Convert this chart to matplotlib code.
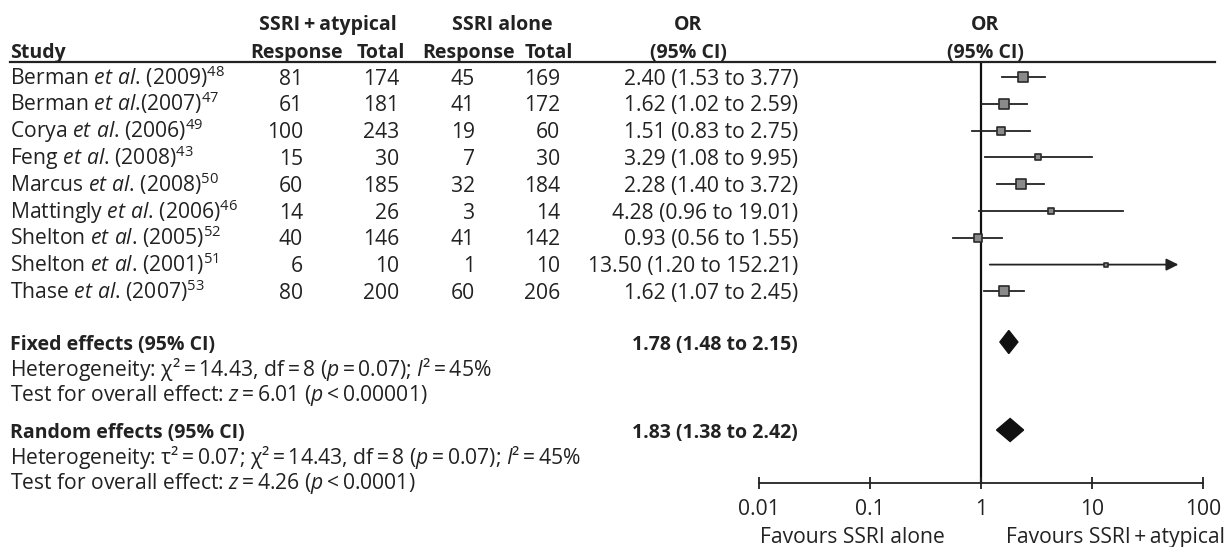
import matplotlib
matplotlib.use('Agg')
import matplotlib.pyplot as plt
from matplotlib.transforms import blended_transform_factory

plt.rcParams['font.family'] = ['Open Sans', 'DejaVu Sans']
plt.rcParams['mathtext.fontset'] = 'custom'
plt.rcParams['mathtext.rm'] = 'Open Sans'
plt.rcParams['mathtext.it'] = 'Open Sans:italic'
plt.rcParams['mathtext.bf'] = 'Open Sans:bold'

# data
studies = ['Berman $\\mathit{et\\ al}$. (2009)$^{48}$',
           'Berman $\\mathit{et\\ al}$.(2007)$^{47}$',
           'Corya $\\mathit{et\\ al}$. (2006)$^{49}$',
           'Feng $\\mathit{et\\ al}$. (2008)$^{43}$',
           'Marcus $\\mathit{et\\ al}$. (2008)$^{50}$',
           'Mattingly $\\mathit{et\\ al}$. (2006)$^{46}$',
           'Shelton $\\mathit{et\\ al}$. (2005)$^{52}$',
           'Shelton $\\mathit{et\\ al}$. (2001)$^{51}$',
           'Thase $\\mathit{et\\ al}$. (2007)$^{53}$']
resp_combo = [81, 61, 100, 15, 60, 14, 40, 6, 80]
total_combo = [174, 181, 243, 30, 185, 26, 146, 10, 200]
resp_alone = [45, 41, 19, 7, 32, 3, 41, 1, 60]
total_alone = [169, 172, 60, 30, 184, 14, 142, 10, 206]
odds = [2.40, 1.62, 1.51, 3.29, 2.28, 4.28, 0.93, 13.50, 1.62]
ci_low = [1.53, 1.02, 0.83, 1.08, 1.40, 0.96, 0.56, 1.20, 1.07]
ci_high = [3.77, 2.59, 2.75, 9.95, 3.72, 19.01, 1.55, 152.21, 2.45]
weights = [18, 20, 9, 3.5, 18, 2, 12, 1, 17]

pooled_names = ['Fixed effects (95% CI)', 'Random effects (95% CI)']
pooled_or = [1.78, 1.83]
pooled_low = [1.48, 1.38]
pooled_high = [2.15, 2.42]
t = '\u2009'
pooled_notes = [
    [f'Heterogeneity: χ²{t}={t}14.43, df{t}={t}8 ($\\mathit{{p}}${t}={t}0.07); $\\mathit{{I}}$²{t}={t}45%',
     f'Test for overall effect: $\\mathit{{z}}${t}={t}6.01 ($\\mathit{{p}}${t}<{t}0.00001)'],
    [f'Heterogeneity: τ²{t}={t}0.07; χ²{t}={t}14.43, df{t}={t}8 ($\\mathit{{p}}${t}={t}0.07); $\\mathit{{I}}$²{t}={t}45%',
     f'Test for overall effect: $\\mathit{{z}}${t}={t}4.26 ($\\mathit{{p}}${t}<{t}0.0001)'],
]
tick_vals = [0.01, 0.1, 1, 10, 100]
tick_labels = ['0.01', '0.1', '1', '10', '100']

W, H = 1227, 547
fig = plt.figure(figsize=(W / 100, H / 100), dpi=100)

row_px = 26.8
first_px = 77


def row(px):
    return (px - first_px) / row_px


ax = fig.add_axes([759 / W, 1 - 483 / H, (1203 - 759) / W, (483 - 62) / H])
ax.set_xscale('log')
ax.set_xlim(0.01, 100)
ax.set_ylim(row(483), row(62))
for s in ['left', 'right', 'top']:
    ax.spines[s].set_visible(False)
ax.spines['bottom'].set_linewidth(1.3)
ax.spines['bottom'].set_color('#222222')
ax.set_yticks([])
ax.set_xticks(tick_vals)
ax.set_xticklabels(tick_labels)
ax.minorticks_off()

fs = 15.2
fs_bold = 14.0
dark = '#222222'
ax.tick_params(axis='x', direction='inout', length=9, width=1.3, colors=dark,
               labelsize=fs, pad=7)
ax.axvline(1, color='#111111', lw=1.6, zorder=1)

tr = blended_transform_factory(fig.transFigure, ax.transData)
base = 0.28


def put(xpx, y, s, ha='left', bold=False):
    ax.text(xpx / W, y + base, s, transform=tr, ha=ha, va='baseline',
            fontsize=fs_bold if bold else fs,
            fontweight='bold' if bold else 'normal', color=dark, clip_on=False)


# headers
h1, h2 = row(22), row(50)
put(328, h1, 'SSRI\u2009+\u2009atypical', 'center', True)
put(502, h1, 'SSRI alone', 'center', True)
put(688, h1, 'OR', 'center', True)
put(985, h1, 'OR', 'center', True)
put(10, h2, 'Study', bold=True)
put(297, h2, 'Response', 'center', True)
put(381, h2, 'Total', 'center', True)
put(469, h2, 'Response', 'center', True)
put(549, h2, 'Total', 'center', True)
put(688, h2, '(95% CI)', 'center', True)
put(985, h2, '(95% CI)', 'center', True)
ax.plot([10 / W, 1215 / W], [row(62), row(62)], transform=tr, color=dark, lw=1.6,
        clip_on=False)

# study rows
for i, name in enumerate(studies):
    put(10, i, name)
    put(303, i, str(resp_combo[i]), 'right')
    put(399, i, str(total_combo[i]), 'right')
    put(475, i, str(resp_alone[i]), 'right')
    put(560, i, str(total_alone[i]), 'right')
    put(798, i, f'{odds[i]:.2f} ({ci_low[i]:.2f} to {ci_high[i]:.2f})', 'right')

    hi = ci_high[i]
    if hi > 60:
        ax.annotate('', xy=(60, i), xytext=(ci_low[i], i),
                    arrowprops=dict(arrowstyle='-|>', color=dark, lw=1.3,
                                    mutation_scale=18, shrinkA=0, shrinkB=0))
    else:
        ax.plot([ci_low[i], hi], [i, i], color=dark, lw=1.3, zorder=2, clip_on=False)
    side = (3 + 1.5 * weights[i] ** 0.5) * 0.72
    ax.scatter([odds[i]], [i], marker='s', s=side ** 2, color='#8a8a8a',
               edgecolor='#2a2a2a', linewidth=1.2, zorder=3, clip_on=False)

# pooled estimates
pooled_px = [342, 430]
for k in range(2):
    y = row(pooled_px[k])
    put(10, y, pooled_names[k], bold=True)
    put(798, y, f'{pooled_or[k]:.2f} ({pooled_low[k]:.2f} to {pooled_high[k]:.2f})',
        'right', True)
    for j, note in enumerate(pooled_notes[k]):
        put(10, y + (j + 1) * 0.97, note)
    hh = 0.43
    ax.fill([pooled_low[k], pooled_or[k], pooled_high[k], pooled_or[k]],
            [y, y - hh, y, y + hh], color='#111111', zorder=3)

put(852, row(535), 'Favours SSRI alone', 'center')
put(1116, row(535), 'Favours SSRI\u2009+\u2009atypical', 'center')

fig.savefig('out.png', dpi=100)
